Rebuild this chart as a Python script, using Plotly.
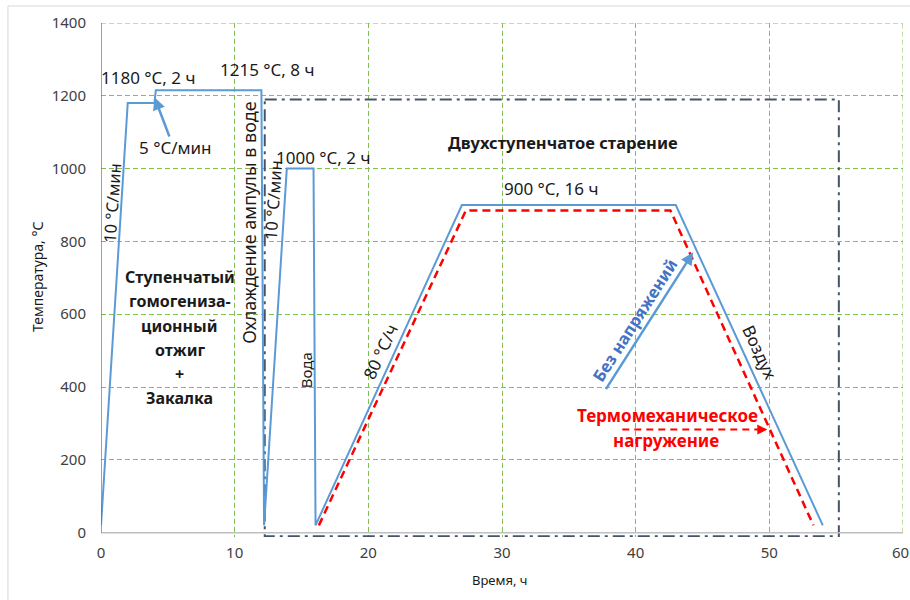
import plotly.graph_objects as go

# ---- data ----
regime_time = [0, 2, 4, 4.1, 12.0, 12.2, 13.9, 15.9, 16.05, 27, 43, 54]
regime_temp = [20, 1180, 1180, 1215, 1215, 20, 1000, 1000, 20, 900, 900, 20]

loaded_time = [16.3, 27.3, 42.6, 53.3]
loaded_temp = [20, 885, 885, 20]

aging_box_time = [12.25, 55.2, 55.2, 12.25, 12.25]
aging_box_temp = [1190, 1190, -10, -10, 1190]

load_arrow_time = [39.0, 49.85]
load_arrow_temp = [283, 283]

x_ticks = [0, 10, 20, 30, 40, 50, 60]
x_tick_labels = ["0", "10", "20", "30", "40", "50", "60"]
y_ticks = [0, 200, 400, 600, 800, 1000, 1200, 1400]

FONT = "Noto Sans"
BLUE = "#5B9BD5"
GRID = "#7FC04E"
TICKCOL = "#404040"

fig = go.Figure()

fig.add_trace(go.Scatter(x=aging_box_time, y=aging_box_temp, mode="lines",
                         line=dict(color="#44546A", width=2, dash="12px,5px,3px,5px"),
                         hoverinfo="skip", showlegend=False))
fig.add_trace(go.Scatter(x=regime_time, y=regime_temp, mode="lines",
                         line=dict(color=BLUE, width=2), showlegend=False))
fig.add_trace(go.Scatter(x=loaded_time, y=loaded_temp, mode="lines",
                         line=dict(color="#FF0000", width=2.5, dash="8px,5px"),
                         showlegend=False))
fig.add_trace(go.Scatter(x=load_arrow_time[:1] + [load_arrow_time[1] - 0.6],
                         y=load_arrow_temp, mode="lines",
                         line=dict(color="#FF0000", width=2, dash="7px,5px"),
                         showlegend=False))

ann = []

def txt(x, y, s, size=17, angle=0, bold=False, color="#1a1a1a", xref="x", yref="y",
        xshift=0):
    if bold:
        s = "<b>" + s + "</b>"
    ann.append(dict(x=x, y=y, xref=xref, yref=yref, text=s, showarrow=False,
                    textangle=angle, font=dict(family=FONT, size=size, color=color),
                    xanchor="center", yanchor="middle", xshift=xshift))

txt(3.5, 1249, "1180 °C, 2 ч")
txt(12.4, 1271, "1215 °C, 8 ч")
txt(5.6, 1059, "5 °C/мин")
txt(0.8, 905, "10 °C/мин", size=16.5, angle=-86)
txt(11.1, 852, "Охлаждение ампулы в воде", size=18, angle=-90)
txt(12.85, 913, "10 °C/мин", size=16.5, angle=-86)
txt(16.6, 1031, "1000 °C, 2 ч")
txt(15.3, 445, "Вода", size=15, angle=-90)
txt(20.9, 498, "80 °C/ч", angle=-65)
txt(34.55, 1072, "Двухступенчатое старение", size=16.5, bold=True)
txt(33.7, 944, "900 °C, 16 ч")
txt(39.9, 583, "Без напряжений", size=16.5, angle=-57.5, bold=True, color="#4472C4")
txt(49.3, 495, "Воздух", angle=65)
txt(42.4, 322, "Термомеханическое", bold=True, color="#FF0000")
txt(42.3, 253, "нагружение", bold=True, color="#FF0000")

for yv, s in zip([701, 635, 569, 503, 437, 371],
                 ["Ступенчатый", "гомогениза-", "ционный", "отжиг", "+", "Закалка"]):
    txt(5.9, yv, s, size=16, bold=True)

# last x tick label kept inside the page
txt(x_ticks[-1], -0.0292, x_tick_labels[-1], size=15, color=TICKCOL, yref="paper",
    xshift=-3)

# axis titles
txt(0.4975, -0.0837, "Время, ч", size=13, xref="paper", yref="paper")
txt(-0.0786, 0.506, "Температура, °С", size=14, angle=-90, xref="paper", yref="paper")

# arrows
ann.append(dict(x=4.0, y=1196, ax=5.16, ay=1084, xref="x", yref="y", axref="x", ayref="y",
                text="", showarrow=True, arrowhead=2, arrowsize=1, arrowwidth=2.5,
                arrowcolor=BLUE))
ann.append(dict(x=44.3, y=770, ax=37.7, ay=390, xref="x", yref="y", axref="x", ayref="y",
                text="", showarrow=True, arrowhead=2, arrowsize=1, arrowwidth=2.5,
                arrowcolor=BLUE))
ann.append(dict(x=load_arrow_time[1], y=load_arrow_temp[1],
                ax=load_arrow_time[1] - 0.8, ay=load_arrow_temp[1],
                xref="x", yref="y", axref="x", ayref="y",
                text="", showarrow=True, arrowhead=2, arrowsize=1, arrowwidth=2,
                arrowcolor="#FF0000"))

shapes = [
    dict(type="line", xref="x", yref="y", x0=0, x1=60, y0=1400, y1=1400,
         line=dict(color=GRID, width=1, dash="5px,3px"), layer="below"),
    dict(type="line", xref="x", yref="y", x0=60, x1=60, y0=0, y1=1400,
         line=dict(color=GRID, width=1, dash="5px,3px"), layer="below"),
    dict(type="line", xref="x", yref="y", x0=0, x1=60, y0=0, y1=0,
         line=dict(color="#BFBFBF", width=1.5), layer="above"),
    dict(type="line", xref="x", yref="y", x0=0, x1=0, y0=0, y1=1400,
         line=dict(color="#6F6F6F", width=1.3), layer="above"),
    dict(type="rect", xref="paper", yref="paper", x0=-0.116, x1=1.3, y0=-0.6, y1=1.0331,
         line=dict(color="#D9D9D9", width=1), layer="below"),
]

fig.update_layout(
    width=910, height=600,
    margin=dict(l=101, r=7, t=23, b=63),
    paper_bgcolor="white", plot_bgcolor="white",
    annotations=ann, shapes=shapes,
    font=dict(family=FONT, size=15, color="#595959"),
    xaxis=dict(range=[0, 60], tickvals=x_ticks[:-1], ticktext=x_tick_labels[:-1],
               showgrid=True, gridcolor=GRID,
               griddash="5px,3px", gridwidth=1, zeroline=False, showline=False,
               ticklabelstandoff=5, automargin=False,
               tickfont=dict(size=15, color=TICKCOL)),
    yaxis=dict(range=[-12, 1400], tickvals=y_ticks, showgrid=True, gridcolor=GRID,
               griddash="5px,3px", gridwidth=1, zeroline=False, showline=False,
               ticklabelstandoff=14, automargin=False,
               tickfont=dict(size=15, color=TICKCOL)),
)

fig.write_html("out.html")
